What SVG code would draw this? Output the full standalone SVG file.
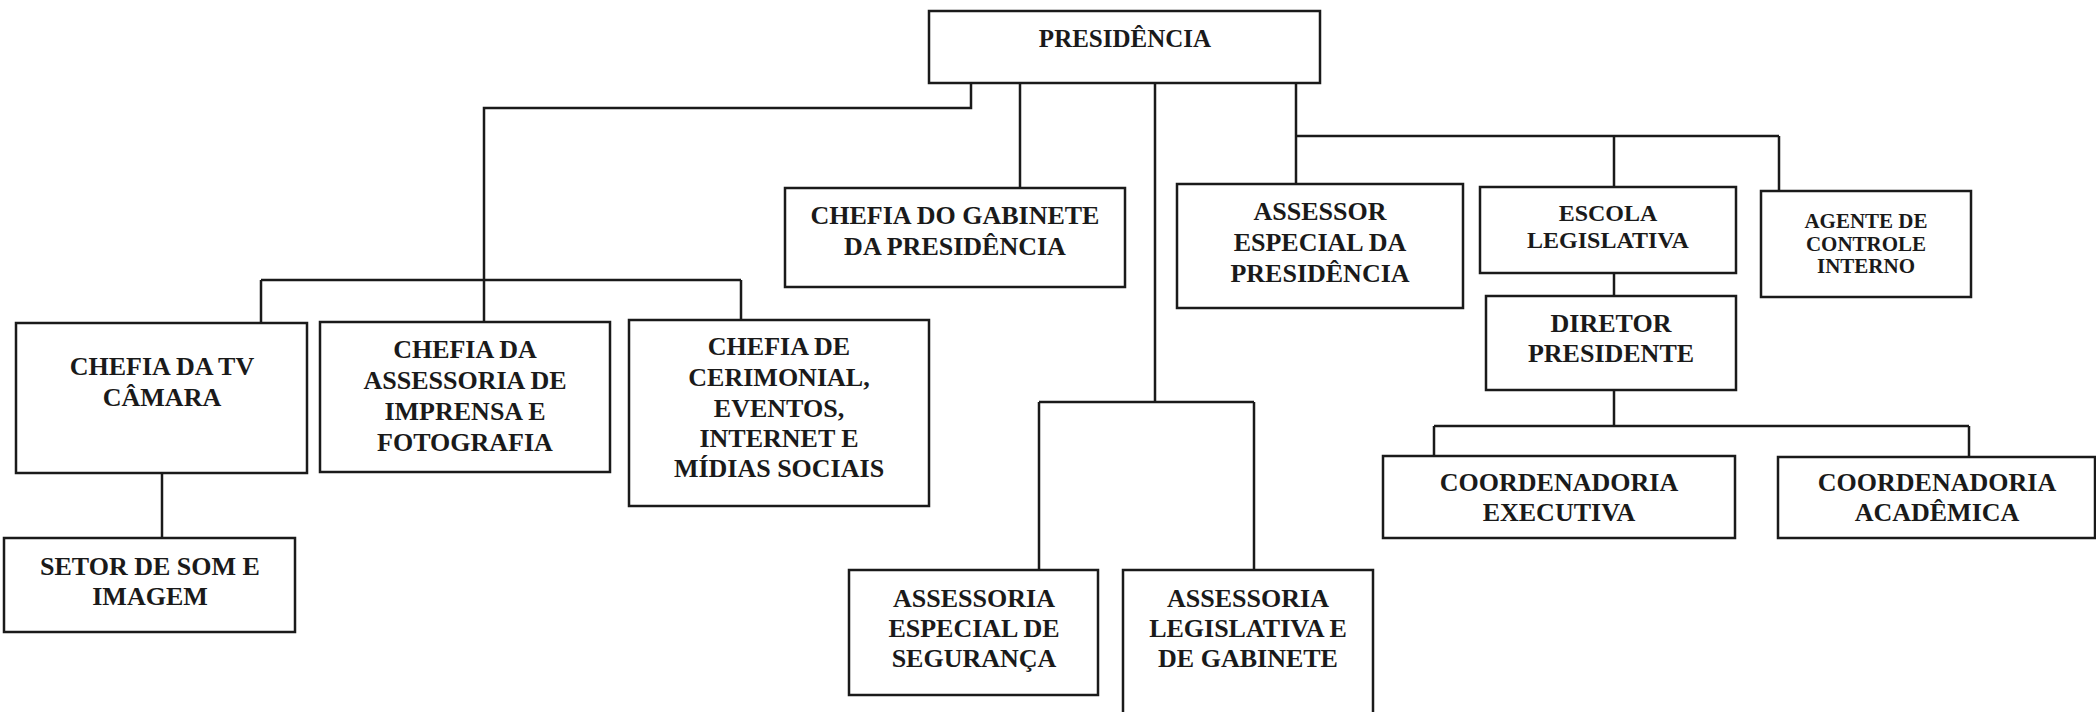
<svg xmlns="http://www.w3.org/2000/svg" width="2096" height="712" viewBox="0 0 2096 712">
<style>
.box{fill:#ffffff;stroke:#1a1a1a;stroke-width:2.5}
.ln{fill:none;stroke:#1a1a1a;stroke-width:2.5}
text{font-family:"Liberation Serif","Times New Roman",serif;font-weight:bold;font-size:26px;fill:#1a1a1a;text-anchor:middle}
.s25{font-size:25px}
.s24{font-size:24px}
.s21{font-size:21px}
</style>
<rect width="2096" height="712" fill="#ffffff"/>
<g id="connectors">
<path class="ln" d="M971 83 V108 H484 V322"/>
<path class="ln" d="M261 280 H741 M261 280 V323 M741 280 V320"/>
<path class="ln" d="M1020 83 V188"/>
<path class="ln" d="M1155 83 V402 M1039 402 H1254 M1039 402 V570 M1254 402 V570"/>
<path class="ln" d="M1296 83 V184 M1296 136 H1779 M1614 136 V187 M1779 136 V191"/>
<path class="ln" d="M1614 273 V296"/>
<path class="ln" d="M1614 390 V426 M1434 426 H1969 M1434 426 V456 M1969 426 V457"/>
<path class="ln" d="M162 473 V538"/>
</g>
<g id="presidencia">
<rect class="box" x="929" y="11" width="391" height="72"/>
<text class="s25" x="1125" y="47">PRESIDÊNCIA</text>
</g>
<g id="chefia-gabinete">
<rect class="box" x="785" y="188" width="340" height="99"/>
<text x="955" y="224">CHEFIA DO GABINETE</text>
<text x="955" y="255">DA PRESIDÊNCIA</text>
</g>
<g id="chefia-tv">
<rect class="box" x="16" y="323" width="291" height="150"/>
<text x="162" y="375">CHEFIA DA TV</text>
<text x="162" y="406">CÂMARA</text>
</g>
<g id="chefia-imprensa">
<rect class="box" x="320" y="322" width="290" height="150"/>
<text x="465" y="358">CHEFIA DA</text>
<text x="465" y="389">ASSESSORIA DE</text>
<text x="465" y="420">IMPRENSA E</text>
<text x="465" y="451">FOTOGRAFIA</text>
</g>
<g id="chefia-cerimonial">
<rect class="box" x="629" y="320" width="300" height="186"/>
<text x="779" y="355">CHEFIA DE</text>
<text x="779" y="386">CERIMONIAL,</text>
<text x="779" y="417">EVENTOS,</text>
<text x="779" y="447">INTERNET E</text>
<text x="779" y="477">MÍDIAS SOCIAIS</text>
</g>
<g id="setor-som">
<rect class="box" x="4" y="538" width="291" height="94"/>
<text x="150" y="575">SETOR DE SOM E</text>
<text x="150" y="605">IMAGEM</text>
</g>
<g id="assessoria-seguranca">
<rect class="box" x="849" y="570" width="249" height="125"/>
<text x="974" y="607">ASSESSORIA</text>
<text x="974" y="637">ESPECIAL DE</text>
<text x="974" y="667">SEGURANÇA</text>
</g>
<g id="assessoria-legislativa">
<rect class="box" x="1123" y="570" width="250" height="150"/>
<text x="1248" y="607">ASSESSORIA</text>
<text x="1248" y="637">LEGISLATIVA E</text>
<text x="1248" y="667">DE GABINETE</text>
</g>
<g id="assessor-especial">
<rect class="box" x="1177" y="184" width="286" height="124"/>
<text x="1320" y="220">ASSESSOR</text>
<text x="1320" y="251">ESPECIAL DA</text>
<text x="1320" y="282">PRESIDÊNCIA</text>
</g>
<g id="escola-legislativa">
<rect class="box" x="1480" y="187" width="256" height="86"/>
<text class="s24" x="1608" y="221">ESCOLA</text>
<text class="s24" x="1608" y="248">LEGISLATIVA</text>
</g>
<g id="diretor-presidente">
<rect class="box" x="1486" y="296" width="250" height="94"/>
<text x="1611" y="332">DIRETOR</text>
<text x="1611" y="362">PRESIDENTE</text>
</g>
<g id="agente-controle">
<rect class="box" x="1761" y="191" width="210" height="106"/>
<text class="s21" x="1866" y="228">AGENTE DE</text>
<text class="s21" x="1866" y="251">CONTROLE</text>
<text class="s21" x="1866" y="273">INTERNO</text>
</g>
<g id="coord-executiva">
<rect class="box" x="1383" y="456" width="352" height="82"/>
<text x="1559" y="491">COORDENADORIA</text>
<text x="1559" y="521">EXECUTIVA</text>
</g>
<g id="coord-academica">
<rect class="box" x="1778" y="457" width="317" height="81"/>
<text x="1937" y="491">COORDENADORIA</text>
<text x="1937" y="521">ACADÊMICA</text>
</g>
</svg>
